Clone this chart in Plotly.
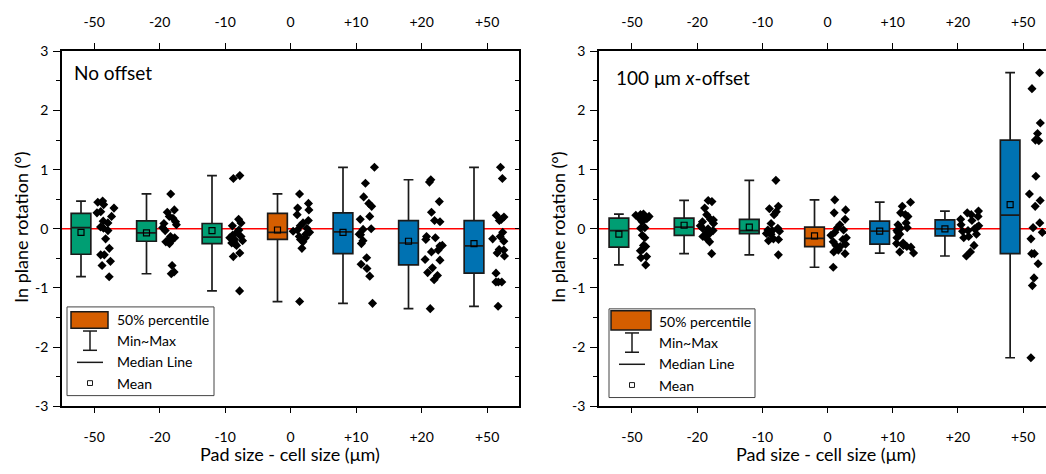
import plotly.graph_objects as go

W, H = 1046, 474
FONT = "Lato"

categories = ["-50", "-20", "-10", "0", "+10", "+20", "+50"]

# ---- No offset: box statistics (degrees) ----
left_q1 = [-0.43, -0.21, -0.25, -0.18, -0.42, -0.61, -0.75]
left_median = [0.02, -0.07, -0.14, -0.06, -0.05, -0.24, -0.29]
left_q3 = [0.26, 0.135, 0.09, 0.26, 0.27, 0.14, 0.14]
left_min = [-0.81, -0.76, -1.05, -1.23, -1.26, -1.35, -1.31]
left_max = [0.47, 0.59, 0.90, 0.59, 1.04, 0.83, 1.04]
left_mean = [-0.06, -0.07, -0.03, -0.02, -0.06, -0.21, -0.25]

# ---- No offset: individual measurements ----
left_points = [
    [0.47, 0.45, 0.41, 0.35, 0.29, 0.27, 0.21, 0.13, 0.10, 0.03, 0.01, -0.03,
     -0.17, -0.33, -0.44, -0.44, -0.55, -0.62, -0.81],
    [0.59, 0.32, 0.28, 0.21, 0.18, 0.12, 0.09, 0.07, 0.02, -0.03, -0.13, -0.15,
     -0.17, -0.20, -0.22, -0.25, -0.62, -0.73, -0.76],
    [0.90, 0.85, 0.16, 0.10, 0.05, -0.02, -0.06, -0.11, -0.13, -0.15, -0.18,
     -0.20, -0.22, -0.24, -0.25, -0.28, -0.41, -0.47, -1.05],
    [0.59, 0.43, 0.35, 0.32, 0.24, 0.14, 0.10, 0.05, 0.01, -0.02, -0.04, -0.06,
     -0.09, -0.13, -0.15, -0.18, -0.22, -0.33, -1.23],
    [1.04, 0.77, 0.54, 0.43, 0.38, 0.21, 0.16, 0.00, -0.01, -0.09, -0.10, -0.20,
     -0.25, -0.49, -0.60, -0.67, -0.80, -1.26],
    [0.83, 0.79, 0.46, 0.28, 0.14, 0.12, -0.13, -0.15, -0.18, -0.28, -0.29,
     -0.36, -0.39, -0.52, -0.53, -0.66, -0.74, -0.79, -0.86, -1.35],
    [1.04, 0.85, 0.23, 0.20, 0.16, 0.14, -0.06, -0.13, -0.17, -0.21, -0.35,
     -0.36, -0.41, -0.46, -0.75, -0.90, -0.90, -0.90, -1.31],
]

# ---- 100 um x-offset: box statistics (degrees) ----
right_q1 = [-0.31, -0.11, -0.08, -0.30, -0.26, -0.12, -0.42]
right_median = [-0.03, 0.03, -0.03, -0.16, -0.04, 0.00, 0.23]
right_q3 = [0.18, 0.18, 0.16, 0.03, 0.13, 0.15, 1.50]
right_min = [-0.61, -0.42, -0.44, -0.65, -0.41, -0.46, -2.18]
right_max = [0.25, 0.48, 0.82, 0.49, 0.45, 0.30, 2.64]
right_mean = [-0.09, 0.06, 0.03, -0.12, -0.04, 0.00, 0.41]

# ---- 100 um x-offset: individual measurements ----
right_points = [
    [0.25, 0.24, 0.23, 0.22, 0.21, 0.20, 0.19, 0.17, 0.12, 0.02, 0.01, -0.11,
     -0.15, -0.28, -0.30, -0.35, -0.37, -0.47, -0.49, -0.61],
    [0.48, 0.46, 0.35, 0.24, 0.16, 0.15, 0.12, 0.09, 0.05, 0.01, 0.00, -0.03,
     -0.06, -0.09, -0.13, -0.17, -0.22, -0.42],
    [0.82, 0.38, 0.34, 0.29, 0.24, 0.09, 0.01, -0.02, -0.03, -0.04, -0.06,
     -0.08, -0.09, -0.17, -0.18, -0.20, -0.44],
    [0.49, 0.32, 0.27, 0.16, 0.07, 0.02, -0.02, -0.06, -0.11, -0.15, -0.18,
     -0.22, -0.26, -0.28, -0.30, -0.36, -0.39, -0.42, -0.65],
    [0.45, 0.38, 0.27, 0.24, 0.21, 0.10, 0.07, 0.02, 0.01, -0.03, -0.06, -0.09,
     -0.15, -0.24, -0.25, -0.28, -0.30, -0.31, -0.39, -0.41],
    [0.30, 0.27, 0.24, 0.21, 0.16, 0.14, 0.07, 0.05, 0.02, 0.00, -0.03, -0.04,
     -0.09, -0.13, -0.15, -0.28, -0.39, -0.46],
    [2.64, 2.37, 1.79, 1.61, 1.50, 1.49, 0.89, 0.59, 0.48, 0.38, 0.10, 0.02,
     -0.06, -0.17, -0.42, -0.42, -0.59, -0.83, -0.96, -2.18],
]

y_ticks = [-3, -2, -1, 0, 1, 2, 3]
y_ticktext = ["-3", "-2", "-1", "0", "1", "2", "3"]

GREEN, ORANGE, BLUE = "#009E73", "#D55E00", "#0072B2"
box_colors = [GREEN, GREEN, GREEN, ORANGE, BLUE, BLUE, BLUE]
EDGE = "#1a1a1a"

BOX_SHIFT = -0.2    # boxes sit left of the tick ...
POINT_SHIFT = 0.18  # ... and the raw measurements to the right of it
BOX_W = 0.3


def px(x):
    return x / W


def py(y):
    return 1 - y / H


fig = go.Figure()


def add_panel(xa, ya, q1, med, q3, lo, hi, mean, points):
    pos = [i + BOX_SHIFT for i in range(len(categories))]
    for i in range(len(categories)):
        fig.add_trace(go.Box(
            x=[pos[i]], q1=[q1[i]], median=[med[i]], q3=[q3[i]],
            lowerfence=[lo[i]], upperfence=[hi[i]],
            orientation="v", width=BOX_W, fillcolor=box_colors[i],
            line=dict(color=EDGE, width=1.7), whiskerwidth=0.5,
            boxpoints=False, xaxis=xa, yaxis=ya, showlegend=False,
            hoverinfo="skip"))
    fig.add_trace(go.Scatter(
        x=pos, y=mean, mode="markers", xaxis=xa, yaxis=ya, showlegend=False,
        marker=dict(symbol="square-open", size=6, color="black",
                    line=dict(width=1.2, color="black")),
        hoverinfo="skip"))
    xs, ys = [], []
    for i, pts in enumerate(points):
        xs += [i + POINT_SHIFT] * len(pts)
        ys += pts
    # invisible box trace: only its jittered sample points are shown
    fig.add_trace(go.Box(
        x=xs, y=ys, orientation="v", boxpoints="all", jitter=1.0,
        pointpos=0, width=BOX_W, fillcolor="rgba(0,0,0,0)",
        line=dict(width=0, color="rgba(0,0,0,0)"), whiskerwidth=0,
        marker=dict(symbol="diamond", size=7, color="black"),
        xaxis=xa, yaxis=ya, showlegend=False, hoverinfo="skip"))


add_panel("x", "y", left_q1, left_median, left_q3, left_min, left_max,
          left_mean, left_points)
add_panel("x2", "y2", right_q1, right_median, right_q3, right_min, right_max,
          right_mean, right_points)

# empty carriers so the mirrored top / right axes get drawn
for xa, ya in [("x3", "y"), ("x", "y3"), ("x4", "y2")]:
    fig.add_trace(go.Scatter(x=[0], y=[0], mode="markers", xaxis=xa, yaxis=ya,
                             marker=dict(opacity=0), showlegend=False,
                             hoverinfo="skip"))

tickfont = dict(family=FONT, size=14, color="black")
line_style = dict(showline=True, linecolor="black", linewidth=1.6,
                  tickcolor="black", tickwidth=1.4, showgrid=False,
                  zeroline=False, tickfont=tickfont)
ydom = [py(412), py(44)]
left_dom = [px(62), px(519)]
right_dom = [px(599), 1.0]
left_range = [-0.49, 6.487]
right_range = [-0.505, 6.35]


def x_axis(dom, rng, anchor, top=False, over=None):
    d = dict(domain=dom, range=rng, anchor=anchor, tickmode="array",
             tickvals=list(range(len(categories))), ticktext=categories,
             ticks="outside", ticklen=7 if top else 5,
             ticklabelstandoff=10 if top else 12, **line_style)
    if top:
        d.update(side="top", overlaying=over)
    return d


def y_axis(anchor, right=False, over=None):
    d = dict(domain=ydom, range=[-3, 3], anchor=anchor, tickmode="array",
             tickvals=y_ticks, ticktext=y_ticktext, **line_style)
    if right:
        d.update(side="right", overlaying=over, ticks="inside", ticklen=4,
                 showticklabels=False,
                 minor=dict(tickmode="linear", tick0=0, dtick=0.5,
                            ticks="inside", ticklen=4, tickcolor="black",
                            tickwidth=1.2))
    else:
        d.update(ticks="outside", ticklen=7, ticklabelstandoff=2,
                 minor=dict(tickmode="linear", tick0=0, dtick=0.5,
                            ticks="outside", ticklen=4, tickcolor="black",
                            tickwidth=1.2))
    return d


shapes = [
    dict(type="line", xref="x domain", yref="y", x0=0, x1=1, y0=0, y1=0,
         line=dict(color="red", width=1.6), layer="below"),
    dict(type="line", xref="x2 domain", yref="y2", x0=0, x1=1, y0=0, y1=0,
         line=dict(color="red", width=1.6), layer="below"),
]
annotations = []


def paper_rect(x0, y0, x1, y1, **kw):
    return dict(type="rect", xref="paper", yref="paper", x0=px(x0), x1=px(x1),
                y0=py(y1), y1=py(y0), **kw)


def paper_line(x0, y0, x1, y1, width=1.5):
    return dict(type="line", xref="paper", yref="paper", x0=px(x0), x1=px(x1),
                y0=py(y0), y1=py(y1), line=dict(color=EDGE, width=width))


def text(x, y, s, size=14, anchor="left", angle=0):
    return dict(xref="paper", yref="paper", x=px(x), y=py(y), text=s,
                showarrow=False, xanchor=anchor, yanchor="middle",
                textangle=angle, font=dict(family=FONT, size=size,
                                           color="black"))


legend_labels = ["50% percentile", "Min~Max", "Median Line", "Mean"]


def add_key(dx, dy, sw_x0, sw_x1, sw_y0, sw_y1, frame_x1):
    shapes.append(paper_rect(67 + dx, 309 + dy, frame_x1, 401 + dy,
                             line=dict(color="#444", width=1),
                             fillcolor="white"))
    shapes.append(paper_rect(sw_x0, sw_y0, sw_x1, sw_y1,
                             line=dict(color=EDGE, width=1.5),
                             fillcolor=ORANGE))
    cx = 90 + dx
    shapes.append(paper_line(cx, 334 + dy, cx, 354 + dy))
    shapes.append(paper_line(cx - 7, 334 + dy, cx + 7, 334 + dy))
    shapes.append(paper_line(cx - 7, 354 + dy, cx + 7, 354 + dy))
    shapes.append(paper_line(77 + dx, 366.5 + dy, 103 + dx, 366.5 + dy))
    shapes.append(paper_rect(cx - 2.5, 385.5 + dy, cx + 2.5, 390.5 + dy,
                             line=dict(color=EDGE, width=1)))
    for k, lab in enumerate(legend_labels):
        annotations.append(text(115 + dx, 322 + 22 * k + dy, lab, size=14))


add_key(0, 0, 71, 108, 314, 331, 214)
add_key(542, 2, 611, 651, 313, 333, 755)

annotations += [
    text(72, 66, "No offset", size=19),
    text(614, 71, "100 μm <i>x</i>-offset", size=19),
    text(290, 462, "Pad size - cell size (μm)", size=18, anchor="center"),
    text(826, 462, "Pad size - cell size (μm)", size=18, anchor="center"),
    text(21, 226, "In plane rotation (°)", size=18, anchor="center", angle=-90),
    text(558, 226, "In plane rotation (°)", size=18, anchor="center",
         angle=-90),
]

fig.update_layout(
    width=W, height=H,
    margin=dict(l=0, r=0, t=0, b=0),
    paper_bgcolor="white", plot_bgcolor="white",
    boxmode="overlay", showlegend=False,
    font=dict(family=FONT, color="black"),
    xaxis=x_axis(left_dom, left_range, "y"),
    xaxis3=x_axis(left_dom, left_range, "y", top=True, over="x"),
    yaxis=y_axis("x"),
    yaxis3=y_axis("x", right=True, over="y"),
    xaxis2=x_axis(right_dom, right_range, "y2"),
    xaxis4=x_axis(right_dom, right_range, "y2", top=True, over="x2"),
    yaxis2=y_axis("x2"),
    shapes=shapes,
    annotations=annotations,
)

fig.write_html("out.html")
